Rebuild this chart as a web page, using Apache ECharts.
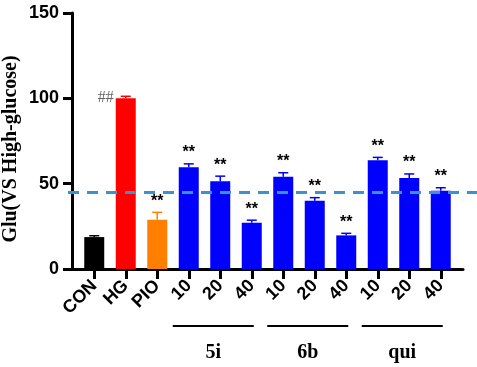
<!DOCTYPE html>
<html>
<head>
<meta charset="utf-8">
<script src="https://cdn.jsdelivr.net/npm/echarts@6/dist/echarts.min.js"></script>
<style>
  html, body { margin: 0; padding: 0; background: #fff; }
  #main { width: 477px; height: 367px; }
</style>
</head>
<body>
<div id="main"></div>
<script>
// data
var categories = ['CON', 'HG', 'PIO', '10', '20', '40', '10', '20', '40', '10', '20', '40'];
var values = [18.7, 100, 28.9, 59.6, 51.4, 27.1, 54.1, 40, 19.7, 63.7, 53.3, 45.9];
var errors = [0.8, 1.2, 4.3, 2.0, 3.0, 1.5, 2.3, 1.8, 1.2, 1.7, 2.4, 1.7];
var marks = ['', '##', '**', '**', '**', '**', '**', '**', '**', '**', '**', '**'];
var barColors = ['#000000', '#ff0000', '#ff8000', '#0000ff', '#0000ff', '#0000ff',
  '#0000ff', '#0000ff', '#0000ff', '#0000ff', '#0000ff', '#0000ff'];
var groupNames = ['5i', '6b', 'qui'];
var groupStart = [3, 6, 9];
var groupEnd = [5, 8, 11];
var yTicks = [0, 50, 100, 150];
var refLine = 45;

var sans = 'Liberation Sans, Arial, sans-serif';
var serif = 'Liberation Serif, Times New Roman, serif';

var chart = echarts.init(document.getElementById('main'));

var errData = values.map(function (v, i) { return [i, v, errors[i], marks[i]]; });

chart.setOption({
  animation: false,
  grid: [
    {left: 72, top: 13, width: 391, height: 256},
    {left: 78.5, top: 13, width: 378, height: 256},
    {left: 68, top: 13, right: 0, height: 256}
  ],
  xAxis: [
    {
      gridIndex: 0, type: 'value', min: 0, max: 1,
      axisLine: {show: true, lineStyle: {color: '#000', width: 3}},
      axisTick: {show: false}, axisLabel: {show: false}, splitLine: {show: false}
    },
    {
      gridIndex: 1, type: 'category', data: categories,
      axisLine: {show: false},
      axisTick: {show: true, alignWithLabel: true, length: 10, lineStyle: {color: '#000', width: 3}},
      axisLabel: {
        rotate: 45, margin: 14, color: '#000', fontWeight: 'bold',
        fontSize: 18, fontFamily: sans, interval: 0
      },
      splitLine: {show: false}
    },
    {gridIndex: 2, type: 'value', min: 0, max: 1, show: false}
  ],
  yAxis: [
    {
      gridIndex: 0, type: 'value', min: yTicks[0], max: yTicks[yTicks.length - 1], interval: 50,
      axisLine: {show: true, lineStyle: {color: '#000', width: 3}},
      axisTick: {show: true, length: 9, lineStyle: {color: '#000', width: 3}},
      axisLabel: {color: '#000', fontWeight: 'bold', fontSize: 18, fontFamily: sans, margin: 13},
      splitLine: {show: false}
    },
    {gridIndex: 1, type: 'value', min: 0, max: 150, show: false},
    {gridIndex: 2, type: 'value', min: 0, max: 150, show: false}
  ],
  series: [
    {
      type: 'bar', xAxisIndex: 1, yAxisIndex: 1, barWidth: 20,
      data: values.map(function (v, i) {
        return {value: v, itemStyle: {color: barColors[i]}};
      })
    },
    {
      type: 'custom', xAxisIndex: 1, yAxisIndex: 1, z: 3,
      data: errData,
      renderItem: function (params, api) {
        var i = api.value(0);
        var top = api.value(1) + api.value(2);
        var p0 = api.coord([i, api.value(1)]);
        var p1 = api.coord([i, top]);
        var color = barColors[i];
        var mark = marks[i];
        var children = [
          {type: 'line', shape: {x1: p0[0], y1: p0[1], x2: p1[0], y2: p1[1]},
            style: {stroke: color, lineWidth: 1.5}},
          {type: 'line', shape: {x1: p1[0] - 5, y1: p1[1], x2: p1[0] + 5, y2: p1[1]},
            style: {stroke: color, lineWidth: 1.5}}
        ];
        if (mark === '##') {
          children.push({type: 'text', x: p0[0] - 12, y: p1[1] + 2,
            style: {text: mark, fill: '#666', font: '16px ' + serif, align: 'right', verticalAlign: 'middle'}});
        } else if (mark) {
          children.push({type: 'text', x: p1[0], y: p1[1] - 3,
            style: {text: mark, fill: '#000', font: 'bold 16px ' + sans, align: 'center', verticalAlign: 'bottom'}});
        }
        return {type: 'group', children: children};
      }
    },
    {
      type: 'line', xAxisIndex: 2, yAxisIndex: 2, data: [], silent: true,
      markLine: {
        symbol: 'none', silent: true, label: {show: false},
        lineStyle: {color: '#3d92cc', width: 3, type: [11, 8]},
        data: [{yAxis: refLine}]
      }
    }
  ]
});

// y title and group brackets under the category labels
var graphics = [{
  type: 'text', x: 11, y: 149, rotation: Math.PI / 2,
  style: {text: 'Glu(VS High-glucose)', fill: '#000', font: 'bold 20px ' + serif,
    align: 'center', verticalAlign: 'middle'}
}];
groupNames.forEach(function (name, g) {
  var a = chart.convertToPixel({xAxisIndex: 1}, groupStart[g]);
  var b = chart.convertToPixel({xAxisIndex: 1}, groupEnd[g]);
  var x1 = a - 16, x2 = b + 2;
  graphics.push({type: 'line', shape: {x1: x1, y1: 326, x2: x2, y2: 326},
    style: {stroke: '#000', lineWidth: 2}});
  graphics.push({type: 'text', x: (x1 + x2) / 2, y: 353,
    style: {text: name, fill: '#000', font: 'bold 20px ' + serif, align: 'center', verticalAlign: 'middle'}});
});
chart.setOption({graphic: graphics});
</script>
</body>
</html>
